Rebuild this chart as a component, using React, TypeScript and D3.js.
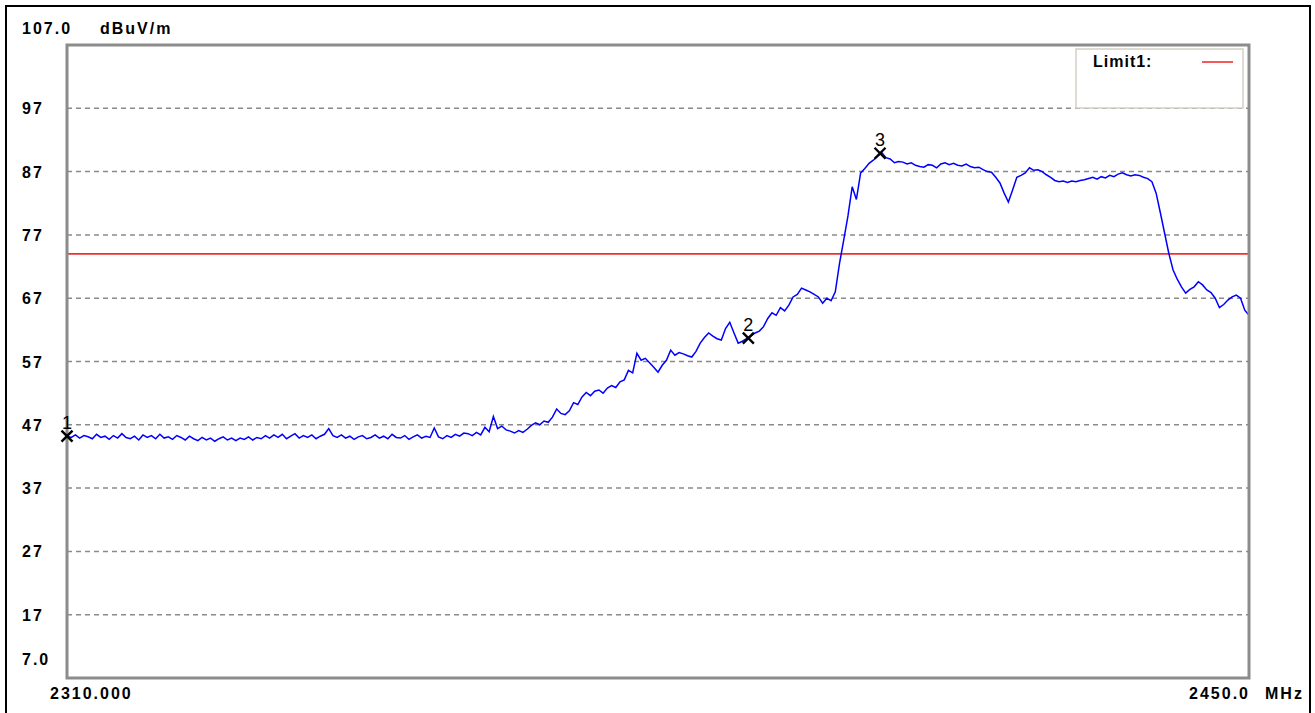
import * as d3 from 'd3';
import * as React from 'react';

const WIDTH = 1315;
const HEIGHT = 713;

// plot frame in pixels
const LEFT = 67;
const RIGHT = 1249;
const TOP = 45;
const BOTTOM = 678;

const FREQ_MIN = 2310;
const FREQ_MAX = 2450;
const LEVEL_MIN = 7;
const LEVEL_MAX = 107;
const LIMIT = 74;

// sweep starts at 2310 MHz, one reading every 0.5 MHz
const FREQ_START = 2310;
const FREQ_STEP = 0.5;

// levels in dBuV/m
const levels = [
  45.2, 45.0, 45.4, 44.9, 45.3, 45.1, 44.8, 45.5, 45.0, 45.2,
  44.7, 45.3, 44.9, 45.6, 45.0, 44.8, 45.2, 44.6, 45.4, 45.0,
  45.3, 44.8, 45.5, 44.9, 45.1, 44.7, 45.3, 45.0, 44.6, 45.2,
  44.8, 44.5, 45.0, 44.6, 44.9, 44.4, 44.8, 45.1, 44.6, 44.9,
  44.5, 44.9, 44.7, 45.1, 44.6, 45.0, 44.8, 45.3, 44.9, 45.4,
  45.0, 45.5, 44.8, 45.2, 45.6, 44.9, 45.3, 45.0, 45.4, 44.8,
  45.2, 45.5, 46.4, 45.3, 45.0, 45.4, 44.9, 45.2, 44.7, 45.1,
  45.3, 44.8, 45.0, 45.4, 44.9, 45.2, 44.8, 45.5, 45.0, 44.9,
  45.3, 44.7, 45.1, 45.4, 44.9, 45.2, 45.0, 46.5, 45.1, 44.8,
  45.3, 45.0, 45.5, 45.2, 45.7, 45.6, 45.3, 45.8, 45.4, 46.6,
  45.9, 48.3, 46.4, 46.8, 46.2, 46.0, 45.7, 46.1, 45.8, 46.3,
  46.9, 47.3, 47.0, 47.6, 47.4, 48.2, 49.5, 48.8, 48.6, 49.2,
  50.5, 50.2, 51.4, 52.1, 51.6, 52.3, 52.5, 52.0, 52.8, 53.2,
  52.9, 53.8, 54.1, 55.6, 55.2, 58.3, 57.2, 57.5, 56.8, 56.1,
  55.3, 56.4, 57.2, 58.8, 58.0, 58.4, 58.2, 57.9, 57.7, 58.6,
  59.9, 60.8, 61.5, 61.0, 60.6, 60.4, 62.2, 63.2, 61.5, 59.9,
  60.2, 60.6, 61.0, 61.5, 61.8, 62.5, 63.8, 64.7, 64.3, 65.5,
  65.0, 65.9, 67.2, 67.6, 68.6, 68.3, 68.0, 67.6, 67.2, 66.2,
  67.0, 66.6, 68.0, 72.5, 76.2, 80.0, 84.6, 82.6, 86.8, 87.5,
  88.3, 88.8, 89.4, 90.0, 89.2, 89.0, 88.4, 88.6, 88.5, 88.2,
  88.4, 88.0, 87.8, 87.7, 88.1, 88.0, 87.6, 88.2, 88.4, 88.1,
  88.3, 88.0, 87.9, 88.2, 87.8, 87.6, 87.7, 87.3, 87.0, 86.9,
  86.1, 85.2, 83.6, 82.2, 84.1, 86.1, 86.4, 86.8, 87.6, 87.2,
  87.3, 87.0, 86.5, 86.1, 85.6, 85.4, 85.5, 85.3, 85.5, 85.4,
  85.6, 85.7, 85.9, 86.1, 85.8, 86.2, 86.0, 86.4, 86.2, 86.6,
  86.8, 86.5, 86.3, 86.5, 86.4, 86.1, 85.9, 85.4, 83.6, 80.5,
  77.3, 74.1, 71.5, 70.0, 68.8, 67.8, 68.4, 68.8, 69.6, 69.1,
  68.3, 67.9, 67.0, 65.5, 66.0, 66.7, 67.2, 67.5, 67.0, 65.1,
  64.3,
];

const markerLabels = ['1', '2', '3'];
const markerFreqs = [2310.0, 2390.7, 2406.3];
const markerLevels = [45.2, 60.7, 89.9];

const gridLevels = [97, 87, 77, 67, 57, 47, 37, 27, 17];

const FONT = '"Liberation Sans", Arial, sans-serif';

export default function App() {
  const x = d3.scaleLinear().domain([FREQ_MIN, FREQ_MAX]).range([LEFT, RIGHT]);
  const y = d3.scaleLinear().domain([LEVEL_MIN, LEVEL_MAX]).range([BOTTOM, TOP]);

  const points: [number, number][] = levels.map((v, i) => [FREQ_START + i * FREQ_STEP, v]);
  const line = d3
    .line<[number, number]>()
    .x(d => x(d[0]))
    .y(d => y(d[1]));

  const labelStyle = {
    fontFamily: FONT,
    fontWeight: 'bold' as const,
    fontSize: 16,
    letterSpacing: 2,
  };

  return (
    <div style={{ position: 'absolute', left: 0, top: 0 }}>
      <svg width={WIDTH} height={HEIGHT} style={{ display: 'block', background: '#fff' }}>
        {/* outer window border */}
        <rect x={6} y={6} width={1304} height={740} fill="none" stroke="#000" strokeWidth={2} />

        {/* grid */}
        {gridLevels.map(v => (
          <g key={v}>
            <line
              x1={LEFT}
              x2={RIGHT}
              y1={y(v)}
              y2={y(v)}
              stroke="#8a8a8a"
              strokeWidth={1.5}
              strokeDasharray="5,4"
            />
            <text x={22} y={y(v) + 6} {...labelStyle}>
              {v}
            </text>
          </g>
        ))}

        {/* axis annotations */}
        <text x={22} y={34} {...labelStyle}>107.0</text>
        <text x={100} y={34} {...labelStyle}>dBuV/m</text>
        <text x={22} y={665} {...labelStyle}>7.0</text>
        <text x={50} y={699} {...labelStyle}>2310.000</text>
        <text x={1250} y={699} textAnchor="end" {...labelStyle}>2450.0</text>
        <text x={1265} y={699} {...labelStyle}>MHz</text>

        {/* limit line */}
        <line x1={LEFT} x2={RIGHT} y1={y(LIMIT)} y2={y(LIMIT)} stroke="#f23030" strokeWidth={1.6} />

        {/* trace */}
        <path d={line(points) ?? ''} fill="none" stroke="#0000ff" strokeWidth={1.5} />

        {/* plot frame */}
        <rect
          x={LEFT}
          y={TOP}
          width={RIGHT - LEFT}
          height={BOTTOM - TOP}
          fill="none"
          stroke="#8c8c8c"
          strokeWidth={3}
        />

        {/* markers */}
        {markerLabels.map((m, i) => {
          const cx = x(markerFreqs[i]);
          const cy = y(markerLevels[i]);
          return (
            <g key={m}>
              <line x1={cx - 5.5} x2={cx + 5.5} y1={cy - 5.5} y2={cy + 5.5} stroke="#000" strokeWidth={2.4} />
              <line x1={cx - 5.5} x2={cx + 5.5} y1={cy + 5.5} y2={cy - 5.5} stroke="#000" strokeWidth={2.4} />
              <text x={cx} y={cy - 7} textAnchor="middle" fontFamily={FONT} fontSize={18}>
                {m}
              </text>
            </g>
          );
        })}

        {/* legend */}
        <rect x={1076} y={49} width={167} height={59} fill="#fff" stroke="#d4d0c8" strokeWidth={1.5} />
        <text x={1093} y={67} {...labelStyle} letterSpacing={1}>Limit1:</text>
        <line x1={1202} x2={1233} y1={62} y2={62} stroke="#f23030" strokeWidth={1.6} />
      </svg>
    </div>
  );
}
